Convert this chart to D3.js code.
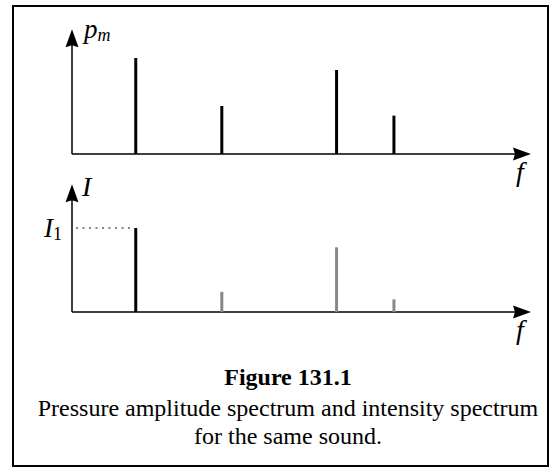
<!DOCTYPE html>
<html>
<head>
<meta charset="utf-8">
<script src="https://cdn.jsdelivr.net/npm/d3@7"></script>
<style>
  body { margin: 0; background: #fff; }
  svg text { font-family: "Liberation Serif", "Times New Roman", serif; }
</style>
</head>
<body>
<div id="figure"></div>
<script>
// Harmonics of one sound: frequency position (arbitrary units)
var freqs     = [1.0, 2.35, 4.15, 5.05];
// pressure amplitude, relative to the first harmonic
var pressure  = [1.0, 0.50, 0.875, 0.40];
// intensity, relative to I1
var intensity = [1.0, 0.24, 0.77, 0.15];
var barColors = ["#000", "#888", "#888", "#888"];

var caption_title = "Figure 131.1";
var caption_lines = ["Pressure amplitude spectrum and intensity spectrum",
                     "for the same sound."];

var width = 558, height = 471;

var svg = d3.select("#figure").append("svg")
    .attr("width", width)
    .attr("height", height);

// frame round the whole figure
svg.append("rect")
    .attr("x", 13).attr("y", 6)
    .attr("width", 535).attr("height", 460)
    .attr("fill", "none")
    .attr("stroke", "#000")
    .attr("stroke-width", 2);

var x = d3.scaleLinear().domain([0, 7.2]).range([72, 531]);
var yP = d3.scaleLinear().domain([0, 1]).range([154, 58]);
var yI = d3.scaleLinear().domain([0, 1]).range([312, 228]);

// filled arrow head pointing along (dx, dy), tip at (tx, ty)
function arrowHead(g, tx, ty, dx, dy) {
  var len = 18, half = 6.5, notch = 2;
  var px = -dy, py = dx;
  var bx = tx - dx * len, by = ty - dy * len;
  var pts = [
    [tx, ty],
    [bx + px * half, by + py * half],
    [bx + dx * notch, by + dy * notch],
    [bx - px * half, by - py * half]
  ];
  g.append("path")
      .attr("d", "M" + pts.join("L") + "Z")
      .attr("fill", "#000");
}

function drawPanel(y, values, topValue, name) {
  var g = svg.append("g");

  g.append("line")
      .attr("x1", x(0)).attr("y1", y(0))
      .attr("x2", x(0)).attr("y2", y(topValue) + 10)
      .attr("stroke", "#000").attr("stroke-width", 1.5);
  arrowHead(g, x(0), y(topValue), 0, -1);

  g.append("line")
      .attr("x1", x(0)).attr("y1", y(0))
      .attr("x2", x(7.2) - 10).attr("y2", y(0))
      .attr("stroke", "#000").attr("stroke-width", 1.5);
  arrowHead(g, x(7.2), y(0), 1, 0);

  g.selectAll(".bar")
      .data(values)
      .enter().append("line")
      .attr("class", "bar")
      .attr("x1", function (d, i) { return x(freqs[i]); })
      .attr("x2", function (d, i) { return x(freqs[i]); })
      .attr("y1", y(0))
      .attr("y2", function (d) { return y(d); })
      .attr("stroke", function (d, i) { return name == "I" ? barColors[i] : "#000"; })
      .attr("stroke-width", 3);

  // f label under the arrow
  g.append("text")
      .attr("x", x(7.2) - 11)
      .attr("y", y(0) + 27)
      .attr("font-size", 28)
      .attr("font-style", "italic")
      .attr("text-anchor", "middle")
      .text("f");

  return g;
}

var top_panel = drawPanel(yP, pressure, 1.3, "p");
top_panel.append("text")
    .attr("x", 84).attr("y", 38)
    .attr("font-size", 27)
    .attr("font-style", "italic")
    .text("p")
  .append("tspan")
    .attr("font-size", 18)
    .attr("dy", 3)
    .text("m");

var bottom_panel = drawPanel(yI, intensity, 1.52, "I");
bottom_panel.append("text")
    .attr("x", 82).attr("y", 196)
    .attr("font-size", 28)
    .attr("font-style", "italic")
    .text("I");

// I1 reference level, dotted line from the axis to the first bar
bottom_panel.append("line")
    .attr("x1", x(0) + 4).attr("y1", yI(intensity[0]))
    .attr("x2", x(freqs[0]) - 3).attr("y2", yI(intensity[0]))
    .attr("stroke", "#888")
    .attr("stroke-width", 2)
    .attr("stroke-dasharray", "2,4.5");

bottom_panel.append("text")
    .attr("x", 44).attr("y", yI(intensity[0]) + 9)
    .attr("font-size", 27)
    .attr("font-style", "italic")
    .text("I")
  .append("tspan")
    .attr("font-style", "normal")
    .attr("font-size", 18)
    .attr("dy", 3)
    .text("1");

// caption
svg.append("text")
    .attr("x", 288).attr("y", 385)
    .attr("font-size", 24)
    .attr("font-weight", "bold")
    .attr("text-anchor", "middle")
    .text(caption_title);

svg.selectAll(".caption")
    .data(caption_lines)
    .enter().append("text")
    .attr("class", "caption")
    .attr("x", 288)
    .attr("y", function (d, i) { return 416 + i * 28; })
    .attr("font-size", 24)
    .attr("text-anchor", "middle")
    .text(function (d) { return d; });
</script>
</body>
</html>
